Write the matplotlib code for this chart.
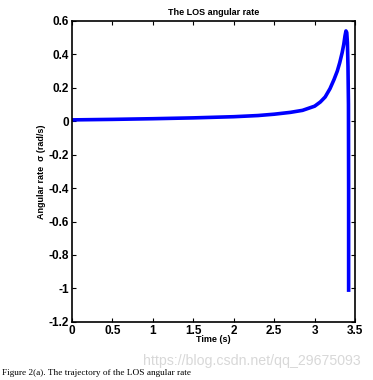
import matplotlib
matplotlib.use('Agg')
import matplotlib.pyplot as plt

# values
time = [0.0, 0.5, 1.0, 1.5, 2.0, 2.3, 2.5, 2.7, 2.85, 3.0, 3.07, 3.13, 3.19, 3.24,
        3.28, 3.31, 3.34, 3.36, 3.375, 3.387, 3.397, 3.405, 3.412, 3.418, 3.42, 3.42]
sigma = [0.008, 0.011, 0.015, 0.02, 0.027, 0.034, 0.042, 0.053, 0.065, 0.09, 0.115,
         0.145, 0.195, 0.25, 0.3, 0.35, 0.41, 0.46, 0.51, 0.54, 0.53, 0.47, 0.33,
         0.1, -0.4, -1.01]
xticks = [0, 0.5, 1, 1.5, 2, 2.5, 3, 3.5]
xticklabels = ['0', '0.5', '1', '1.5', '2', '2.5', '3', '3.5']
yticks = [-1.2, -1, -0.8, -0.6, -0.4, -0.2, 0, 0.2, 0.4, 0.6]
yticklabels = ['-1.2', '-1', '-0.8', '-0.6', '-0.4', '-0.2', '0', '0.2', '0.4', '0.6']

plt.rcParams['font.family'] = ['Liberation Sans', 'DejaVu Sans']

fig = plt.figure(figsize=(3.73, 3.80), dpi=100)
ax = fig.add_axes([0.193, 0.153, 0.759, 0.792])
ax.plot(time, sigma, color='#0000ff', lw=2.6, solid_joinstyle='round')
ax.set_xlim(0, 3.5)
ax.set_ylim(-1.2, 0.6)
ax.set_xticks(xticks)
ax.set_xticklabels(xticklabels, fontsize=8.5, fontweight='bold')
ax.set_yticks(yticks)
ax.set_yticklabels(yticklabels, fontsize=8.5, fontweight='bold')
ax.tick_params(direction='in', top=True, right=True, length=3, width=0.8, pad=2)
for s in ax.spines.values():
    s.set_linewidth(1.2)
ax.set_title('The LOS angular rate', fontsize=6.5, fontweight='bold', pad=4)
ax.set_xlabel('Time (s)', fontsize=6.5, fontweight='bold', labelpad=-1)
ax.set_ylabel('Angular rate  \u03c3 (rad/s)', fontsize=6.5, fontweight='bold', labelpad=2)

fig.text(0.383, 0.05, 'https://blog.csdn.net/qq_29675093', fontsize=10.2,
         color='#d8d8d8', va='center')
fig.text(0.005, 0.018, 'Figure 2(a). The trajectory of the LOS angular rate',
         fontsize=6.7, family='Liberation Serif', va='center')

fig.savefig('out.png', dpi=100)
